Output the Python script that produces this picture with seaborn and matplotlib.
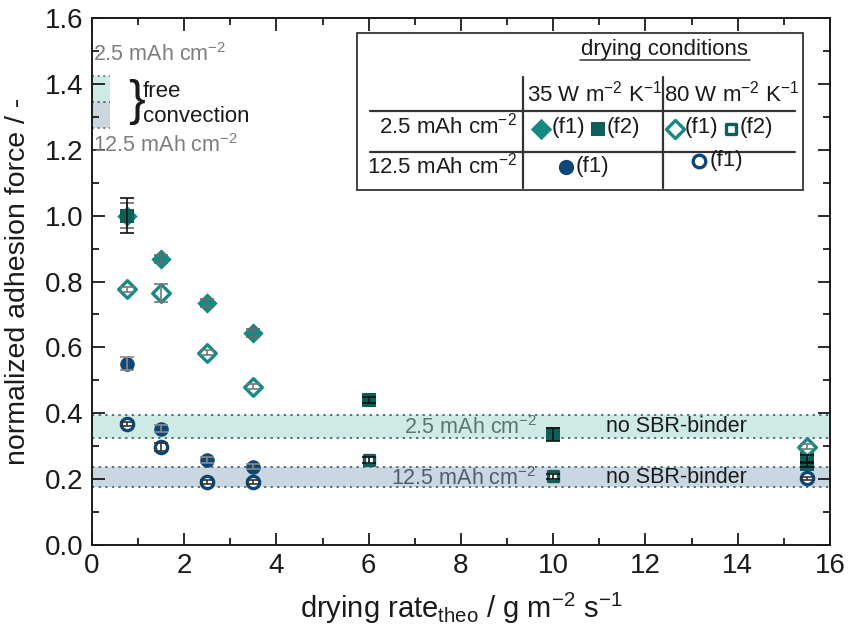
import numpy as np
import pandas as pd
import matplotlib
matplotlib.use("Agg")
import matplotlib.pyplot as plt
import seaborn as sns

# --- measured data -------------------------------------------------------
# 2.5 mAh cm-2, 35 W m-2 K-1, formulation f1
x_35_25_f1 = [0.75, 1.5, 2.5, 3.5]
y_35_25_f1 = [1.0, 0.868, 0.736, 0.645]
e_35_25_f1 = [0.037, 0.012, 0.012, 0.012]
# 2.5 mAh cm-2, 35 W m-2 K-1, formulation f2
x_35_25_f2 = [0.75, 6, 10, 15.5, 15.5]
y_35_25_f2 = [1.0, 0.44, 0.336, 0.26, 0.245]
e_35_25_f2 = [0.052, 0.01, 0.02, 0.012, 0.008]
# 2.5 mAh cm-2, 80 W m-2 K-1, formulation f1
x_80_25_f1 = [0.75, 1.5, 2.5, 3.5, 15.5]
y_80_25_f1 = [0.776, 0.766, 0.584, 0.481, 0.298]
e_80_25_f1 = [0.008, 0.027, 0.008, 0.008, 0.008]
# 2.5 mAh cm-2, 80 W m-2 K-1, formulation f2
x_80_25_f2 = [6, 10]
y_80_25_f2 = [0.258, 0.209]
e_80_25_f2 = [0.008, 0.008]
# 12.5 mAh cm-2, 35 W m-2 K-1, formulation f1
x_35_125_f1 = [0.75, 1.5, 2.5, 3.5]
y_35_125_f1 = [0.55, 0.353, 0.258, 0.238]
e_35_125_f1 = [0.02, 0.01, 0.008, 0.008]
# 12.5 mAh cm-2, 80 W m-2 K-1, formulation f1
x_80_125_f1 = [0.75, 1.5, 2.5, 3.5, 15.5]
y_80_125_f1 = [0.367, 0.298, 0.192, 0.192, 0.202]
e_80_125_f1 = [0.005, 0.012, 0.006, 0.006, 0.005]

# reference ranges without SBR binder
band_25_noSBR = (0.325, 0.395)
band_125_noSBR = (0.176, 0.237)
# free convection ranges
band_25_free = (1.345, 1.425)
band_125_free = (1.265, 1.345)

x_ticks = [0, 2, 4, 6, 8, 10, 12, 14, 16]
y_ticks = [0.0, 0.2, 0.4, 0.6, 0.8, 1.0, 1.2, 1.4, 1.6]

# --- style ---------------------------------------------------------------
sns.set_theme(style="ticks")
plt.rcParams["font.family"] = ["Liberation Sans", "DejaVu Sans"]
plt.rcParams["mathtext.fontset"] = "custom"
plt.rcParams["mathtext.rm"] = "Liberation Sans"
plt.rcParams["mathtext.it"] = "Liberation Sans"
plt.rcParams["mathtext.bf"] = "Liberation Sans:bold"

C_TEAL = "#168a82"
C_DTEAL = "#0e5f58"
C_NAVY = "#0e4777"
C_BAND_T = "#cdeae5"
C_BAND_B = "#cad7e1"
C_DOT = "#4e7282"
C_GRAY = "#7d7d7d"

series = [
    # name, x, y, err, marker, colour, filled, errcolour
    ("35_25_f1", x_35_25_f1, y_35_25_f1, e_35_25_f1, "D", C_TEAL, True, "#6a6a6a"),
    ("35_25_f2", x_35_25_f2, y_35_25_f2, e_35_25_f2, "s", C_DTEAL, True, "#111111"),
    ("80_25_f1", x_80_25_f1, y_80_25_f1, e_80_25_f1, "D", C_TEAL, False, "#777777"),
    ("80_25_f2", x_80_25_f2, y_80_25_f2, e_80_25_f2, "s", C_DTEAL, False, "#111111"),
    ("35_125_f1", x_35_125_f1, y_35_125_f1, e_35_125_f1, "o", C_NAVY, True, "#8a8a8a"),
    ("80_125_f1", x_80_125_f1, y_80_125_f1, e_80_125_f1, "o", C_NAVY, False, "#333333"),
]

# marker area (pt^2) for filled / open variants
size_filled = {"D": 108, "s": 100, "o": 110}
size_open = {"D": 80, "s": 55, "o": 78}
OPEN_LW = 2.4

fig = plt.figure(figsize=(8.54, 6.42), dpi=100)
ax = fig.add_axes([92 / 854, 1 - 545 / 642, (830 - 92) / 854, (545 - 18) / 642])

# reference bands
for (lo, hi), col in [(band_25_noSBR, C_BAND_T), (band_125_noSBR, C_BAND_B)]:
    ax.axhspan(lo, hi, color=col, lw=0, zorder=0)
    for v in (lo, hi):
        ax.axhline(v, color=C_DOT, ls=(0, (1.2, 2.2)), lw=1.4, zorder=1)

for (lo, hi), col in [(band_25_free, C_BAND_T), (band_125_free, C_BAND_B)]:
    ax.fill_between([0, 0.39], lo, hi, color=col, lw=0, zorder=0)
    for v in (lo, hi):
        ax.plot([0, 0.39], [v, v], color=C_DOT, ls=(0, (1.2, 2.2)), lw=1.2, zorder=1)

for name, xs, ys, es, mk, col, filled, ecol in series:
    df = pd.DataFrame({"x": xs, "y": ys})
    sns.scatterplot(data=df, x="x", y="y", ax=ax, marker=mk,
                    s=size_filled[mk] if filled else size_open[mk],
                    color=col, facecolor=col if filled else "white",
                    edgecolor=col, linewidth=0 if filled else OPEN_LW, zorder=4,
                    legend=False)
    ax.errorbar(xs, ys, yerr=es, fmt="none", ecolor=ecol, elinewidth=1.2,
                capsize=5, capthick=1.2, zorder=5)

# band annotations
lbl = dict(fontsize=15.5, va="center", zorder=6)
ax.text(8.2, 0.357, r"2.5 mAh cm$^{-2}$", ha="center", color="#5d7372", **lbl)
ax.text(12.68, 0.36, "no SBR-binder", ha="center", color="#1a1a1a", **lbl)
ax.text(8.05, 0.203, r"12.5 mAh cm$^{-2}$", ha="center", color="#4d5e68", **lbl)
ax.text(12.68, 0.205, "no SBR-binder", ha="center", color="#1a1a1a", **lbl)

# free convection annotation
ax.text(0.02, 1.488, r"2.5 mAh cm$^{-2}$", ha="left", color=C_GRAY, **lbl)
ax.text(0.02, 1.214, r"12.5 mAh cm$^{-2}$", ha="left", color=C_GRAY, **lbl)
ax.text(0.78, 1.345, "}", ha="left", va="center", fontsize=36, color="#1a1a1a",
        fontweight="light", zorder=6)
ax.text(1.1, 1.378, "free", ha="left", va="center", fontsize=16, color="#1a1a1a")
ax.text(1.1, 1.300, "convection", ha="left", va="center", fontsize=16, color="#1a1a1a")

# legend table
ax.add_patch(plt.Rectangle((5.745, 1.078), 15.41 - 5.745, 1.554 - 1.078,
                           fill=True, facecolor="white", edgecolor="#333333",
                           lw=1.3, zorder=7))
tk = dict(fontsize=16, color="#1a1a1a", zorder=9)
ax.text(12.42, 1.505, "drying conditions", ha="center", va="center", **tk)
ax.plot([10.58, 14.27], [1.474, 1.474], color="#333333", lw=1.1, zorder=8)
for xv in (9.34, 12.38):
    ax.plot([xv, xv], [1.084, 1.421], color="#333333", lw=1.6, zorder=8)
for yv in (1.318, 1.193):
    ax.plot([6.03, 15.24], [yv, yv], color="#333333", lw=1.6, zorder=8)
ax.text(10.9, 1.372, r"35 W m$^{-2}$ K$^{-1}$", ha="center", va="center", **tk)
ax.text(13.86, 1.372, r"80 W m$^{-2}$ K$^{-1}$", ha="center", va="center", **tk)
ax.text(9.21, 1.272, r"2.5 mAh cm$^{-2}$", ha="right", va="center", **tk)
ax.text(9.21, 1.153, r"12.5 mAh cm$^{-2}$", ha="right", va="center", **tk)

leg_marks = [
    (9.73, 1.262, "D", C_TEAL, True, 9.97, "(f1)"),
    (10.97, 1.262, "s", C_DTEAL, True, 11.15, "(f2)"),
    (12.64, 1.262, "D", C_TEAL, False, 12.85, "(f1)"),
    (13.85, 1.262, "s", C_DTEAL, False, 14.04, "(f2)"),
    (10.28, 1.148, "o", C_NAVY, True, 10.49, "(f1)"),
    (13.16, 1.166, "o", C_NAVY, False, 13.38, "(f1)"),
]
for mx, my, mk, col, filled, tx, txt in leg_marks:
    ax.scatter([mx], [my], marker=mk,
               s=size_filled[mk] * 1.1 if filled else size_open[mk] * 1.05,
               color=col, facecolor=col if filled else "white", edgecolor=col,
               linewidth=0 if filled else OPEN_LW, zorder=9, clip_on=False)
    ax.text(tx, my + (0.005 if mk != "o" else 0), txt, ha="left", va="center", **tk)

# axes
ax.set_xlim(0, 16)
ax.set_ylim(0, 1.6)
ax.set_xticks(x_ticks)
ax.set_yticks(y_ticks)
ax.set_xticklabels([str(v) for v in x_ticks])
ax.set_yticklabels([f"{v:.1f}" for v in y_ticks])
ax.set_xticks(np.arange(1, 16, 2), minor=True)
ax.set_yticks(np.arange(0.1, 1.6, 0.2), minor=True)
ax.tick_params(which="both", direction="in", top=True, right=True,
               colors="#1a1a1a", labelsize=20, width=1.3)
ax.tick_params(which="major", length=9, pad=6)
ax.tick_params(which="minor", length=5)
for sp in ax.spines.values():
    sp.set_visible(True)
    sp.set_linewidth(1.4)
    sp.set_color("#1a1a1a")

ax.set_xlabel(r"drying rate$_{\mathrm{theo}}$ / g m$^{-2}$ s$^{-1}$",
              fontsize=21, color="#1a1a1a", labelpad=8)
ax.set_ylabel("normalized adhesion force / -", fontsize=20.5, color="#1a1a1a",
              labelpad=10)

fig.savefig("out.png", dpi=100)
